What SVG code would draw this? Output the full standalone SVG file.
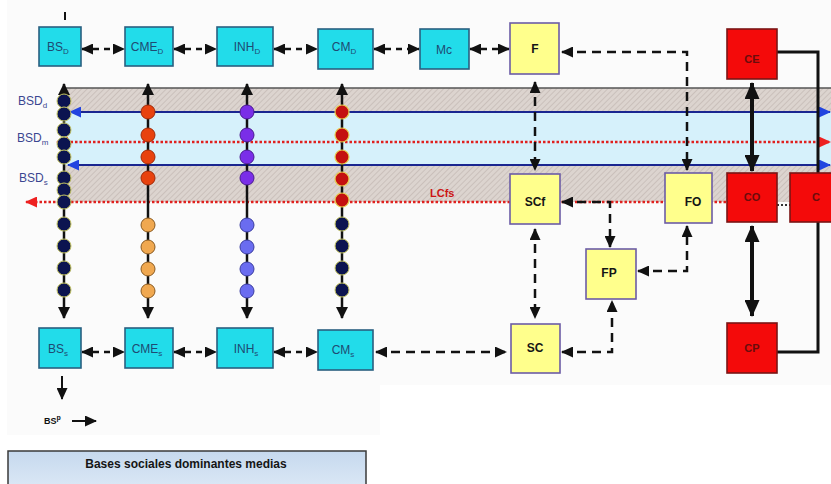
<svg xmlns="http://www.w3.org/2000/svg" width="831" height="484" viewBox="0 0 831 484">
<defs>
<style>
.bx{fill:#22dcea;stroke:#2a5f80;stroke-width:1.6}
.by{fill:#ffff8c;stroke:#6c5ca6;stroke-width:1.6}
.br{fill:#f40a0a;stroke:#7a1414;stroke-width:1.6}
.tc{font-family:"Liberation Sans",Arial,sans-serif;font-size:12px;fill:#1f4a72;text-anchor:middle}
.ty{font-family:"Liberation Sans",Arial,sans-serif;font-size:12px;font-weight:bold;fill:#151515;text-anchor:middle}
.tr{font-family:"Liberation Sans",Arial,sans-serif;font-size:11px;font-weight:bold;fill:#6a0c0c;text-anchor:middle}
.tl{font-family:"Liberation Sans",Arial,sans-serif;font-size:12px;fill:#3a4690}
.sb{font-size:8px}
.col{stroke:#111;stroke-width:2.5;marker-start:url(#ac);marker-end:url(#ac)}
.dbl{stroke:#111;stroke-width:2.5;stroke-dasharray:6 5;fill:none;marker-start:url(#a);marker-end:url(#a)}
.dsh{stroke:#111;stroke-width:2.5;stroke-dasharray:9 6;fill:none;marker-start:url(#a);marker-end:url(#a)}
.thk{stroke:#111;stroke-width:4;marker-start:url(#ab);marker-end:url(#ab)}
.rd{stroke:#e0201e;stroke-width:2.5;stroke-dasharray:2.5 2;fill:none}
.bl{stroke:#1a2690;stroke-width:2.2}
.dn{fill:#0c1450;stroke:#c8c860;stroke-width:1}
.dr{fill:#e8420e;stroke:#a02a08;stroke-width:1}
.do{fill:#f0a850;stroke:#8a5a20;stroke-width:1}
.dp{fill:#7a2ee8;stroke:#4a1a90;stroke-width:1}
.dv{fill:#6a6cf0;stroke:#3a3ca0;stroke-width:1}
.dm{fill:#c41010;stroke:#e8d050;stroke-width:1.2}
</style>
<marker id="a" viewBox="0 0 12 11" refX="11" refY="5.5" markerWidth="12" markerHeight="11" markerUnits="userSpaceOnUse" orient="auto-start-reverse"><path d="M0,0 L12,5.5 L0,11 z" fill="#111"/></marker>
<marker id="ac" viewBox="0 0 12 12" refX="11" refY="6" markerWidth="12" markerHeight="12" markerUnits="userSpaceOnUse" orient="auto-start-reverse"><path d="M0,0 L12,6 L0,12 z" fill="#111"/></marker>
<marker id="ab" viewBox="0 0 17 15" refX="16" refY="7.5" markerWidth="17" markerHeight="15" markerUnits="userSpaceOnUse" orient="auto-start-reverse"><path d="M0,0 L17,7.5 L0,15 z" fill="#111"/></marker>
<marker id="abl" viewBox="0 0 12 11" refX="11" refY="5.5" markerWidth="12" markerHeight="11" markerUnits="userSpaceOnUse" orient="auto-start-reverse"><path d="M0,0 L12,5.5 L0,11 z" fill="#2244e0"/></marker>
<marker id="ard" viewBox="0 0 12 11" refX="11" refY="5.5" markerWidth="12" markerHeight="11" markerUnits="userSpaceOnUse" orient="auto-start-reverse"><path d="M0,0 L12,5.5 L0,11 z" fill="#ee2020"/></marker>
<pattern id="hatch" width="4" height="4" patternUnits="userSpaceOnUse" patternTransform="rotate(45)"><rect width="4" height="4" fill="#dcd4cf"/><line x1="0" y1="0" x2="0" y2="4" stroke="#c4bab4" stroke-width="1.5"/></pattern>
<linearGradient id="leg" x1="0" y1="0" x2="0" y2="1"><stop offset="0" stop-color="#c6d9ee"/><stop offset="1" stop-color="#dde9f6"/></linearGradient>
</defs>
<rect width="831" height="484" fill="#fff"/>
<rect x="7" y="0" width="824" height="385" fill="#fbfbfb"/>
<rect x="7" y="385" width="373" height="50" fill="#fbfbfb"/>

<g id="bands">
<rect x="63" y="88" width="768" height="24" fill="url(#hatch)"/>
<rect x="63" y="112" width="768" height="53" fill="#d6f1fb"/>
<rect x="63" y="165" width="768" height="37" fill="url(#hatch)"/>
<line x1="63" y1="88" x2="831" y2="88" stroke="#555" stroke-width="1.5"/>
<line class="bl" x1="70" y1="112" x2="830" y2="112" marker-start="url(#abl)" marker-end="url(#abl)"/>
<line class="bl" x1="68" y1="165" x2="830" y2="165" marker-start="url(#abl)" marker-end="url(#abl)"/>
<line class="rd" x1="57" y1="142" x2="830" y2="142" marker-start="url(#ard)" marker-end="url(#ard)"/>
<line class="rd" x1="26" y1="202" x2="727" y2="202" marker-start="url(#ard)"/>
<text x="430" y="197" font-family="Liberation Sans,Arial,sans-serif" font-size="11" font-weight="bold" fill="#cc1414">LCfs</text>
<text class="tl" x="18" y="105">BSD<tspan class="sb" dy="3">d</tspan></text>
<text class="tl" x="17" y="142">BSD<tspan class="sb" dy="3">m</tspan></text>
<text class="tl" x="19" y="182">BSD<tspan class="sb" dy="3">s</tspan></text>
</g>

<g id="connectors">
<line x1="65" y1="12" x2="65" y2="20" stroke="#111" stroke-width="2"/>
<line class="dbl" x1="82" y1="49" x2="124" y2="49"/>
<line class="dbl" x1="174" y1="49" x2="216" y2="49"/>
<line class="dbl" x1="274" y1="49" x2="317" y2="49"/>
<line class="dbl" x1="374" y1="49" x2="419" y2="49"/>
<line class="dbl" x1="470" y1="49" x2="509" y2="49"/>
<line class="dbl" x1="82" y1="352" x2="124" y2="352"/>
<line class="dbl" x1="174" y1="352" x2="216" y2="352"/>
<line class="dbl" x1="274" y1="352" x2="317" y2="352"/>
<line class="dsh" x1="376" y1="352" x2="506" y2="352"/>
<line class="dsh" x1="535" y1="82" x2="535" y2="170"/>
<line class="dsh" x1="535" y1="229" x2="535" y2="318"/>
<path class="dsh" d="M562,52 L687,52 L687,170"/>
<path class="dsh" d="M562,202 L610,202 L610,247"/>
<path class="dsh" d="M638,271 L687,271 L687,226"/>
<path class="dsh" d="M562,352 L612,352 L612,301"/>
<path d="M777,52 L818,52 L818,352 L777,352" fill="none" stroke="#111" stroke-width="3"/>
<line class="thk" x1="752" y1="83" x2="752" y2="171"/>
<line class="thk" x1="752" y1="226" x2="752" y2="316"/>
<line x1="777" y1="205" x2="790" y2="205" stroke="#333" stroke-width="2" stroke-dasharray="2 2"/>
<line x1="62" y1="376" x2="62" y2="399" stroke="#111" stroke-width="2" marker-end="url(#a)"/>
<line x1="72" y1="421" x2="96" y2="421" stroke="#111" stroke-width="2" marker-end="url(#a)"/>
<text x="44" y="424" font-family="Liberation Sans,Arial,sans-serif" font-size="9" font-weight="bold" fill="#111">BS<tspan font-size="7" dy="-4">p</tspan></text>
</g>

<g id="columns">
<line class="col" x1="64" y1="84" x2="64" y2="318"/>
<circle class="dn" cx="64" cy="101" r="7"/><circle class="dn" cx="64" cy="114" r="7"/><circle class="dn" cx="64" cy="130" r="7"/><circle class="dn" cx="64" cy="144" r="7"/><circle class="dn" cx="64" cy="157" r="7"/><circle class="dn" cx="64" cy="178" r="7"/><circle class="dn" cx="64" cy="190" r="7"/><circle class="dn" cx="64" cy="202" r="7"/><circle class="dn" cx="64" cy="224" r="7"/><circle class="dn" cx="64" cy="246" r="7"/><circle class="dn" cx="64" cy="268" r="7"/><circle class="dn" cx="64" cy="290" r="7"/>
<line class="col" x1="148" y1="84" x2="148" y2="318"/>
<circle class="dr" cx="148" cy="112" r="7"/><circle class="dr" cx="148" cy="135" r="7"/><circle class="dr" cx="148" cy="157" r="7"/><circle class="dr" cx="148" cy="178" r="7"/>
<circle class="do" cx="148" cy="225" r="7"/><circle class="do" cx="148" cy="247" r="7"/><circle class="do" cx="148" cy="269" r="7"/><circle class="do" cx="148" cy="291" r="7"/>
<line class="col" x1="247" y1="84" x2="247" y2="318"/>
<circle class="dp" cx="247" cy="112" r="7"/><circle class="dp" cx="247" cy="135" r="7"/><circle class="dp" cx="247" cy="157" r="7"/><circle class="dp" cx="247" cy="178" r="7"/>
<circle class="dv" cx="247" cy="225" r="7"/><circle class="dv" cx="247" cy="247" r="7"/><circle class="dv" cx="247" cy="269" r="7"/><circle class="dv" cx="247" cy="291" r="7"/>
<line class="col" x1="342" y1="84" x2="342" y2="318"/>
<circle class="dm" cx="342" cy="112" r="7"/><circle class="dm" cx="342" cy="135" r="7"/><circle class="dm" cx="342" cy="157" r="7"/><circle class="dm" cx="342" cy="179" r="7"/><circle class="dm" cx="342" cy="200" r="7"/>
<circle class="dn" cx="342" cy="224" r="7"/><circle class="dn" cx="342" cy="246" r="7"/><circle class="dn" cx="342" cy="268" r="7"/><circle class="dn" cx="342" cy="290" r="7"/>
</g>

<g id="BSD"><rect class="bx" x="39" y="27" width="42" height="39"/><text class="tc" x="58" y="51">BS<tspan class="sb" dy="3">D</tspan></text></g>
<g id="CMED"><rect class="bx" x="125" y="27" width="48" height="39"/><text class="tc" x="147" y="51">CME<tspan class="sb" dy="3">D</tspan></text></g>
<g id="INHD"><rect class="bx" x="217" y="27" width="56" height="39"/><text class="tc" x="247" y="51">INH<tspan class="sb" dy="3">D</tspan></text></g>
<g id="CMD"><rect class="bx" x="318" y="29" width="55" height="40"/><text class="tc" x="344" y="51">CM<tspan class="sb" dy="3">D</tspan></text></g>
<g id="Mc"><rect class="bx" x="420" y="29" width="49" height="40"/><text class="tc" x="444" y="54">Mc</text></g>
<g id="F"><rect class="by" x="510" y="23" width="49" height="51"/><text class="ty" x="535" y="53">F</text></g>
<g id="CE"><rect class="br" x="727" y="29" width="50" height="50"/><text class="tr" x="752" y="63">CE</text></g>
<g id="SCf"><rect class="by" x="510" y="174" width="50" height="50"/><text class="ty" x="535" y="206">SCf</text></g>
<g id="FO"><rect class="by" x="665" y="173" width="47" height="50"/><text class="ty" x="693" y="206">FO</text></g>
<g id="CO"><rect class="br" x="727" y="173" width="50" height="49"/><text class="tr" x="752" y="201">CO</text></g>
<g id="C"><rect class="br" x="790" y="173" width="50" height="49"/><text class="tr" x="816" y="201">C</text></g>
<g id="FP"><rect class="by" x="586" y="249" width="50" height="50"/><text class="ty" x="609" y="277">FP</text></g>
<g id="SC"><rect class="by" x="511" y="324" width="49" height="49"/><text class="ty" x="535" y="352">SC</text></g>
<g id="CP"><rect class="br" x="727" y="323" width="50" height="50"/><text class="tr" x="752" y="352">CP</text></g>
<g id="BSs"><rect class="bx" x="39" y="328" width="42" height="40"/><text class="tc" x="58" y="353">BS<tspan class="sb" dy="3">s</tspan></text></g>
<g id="CMEs"><rect class="bx" x="125" y="328" width="48" height="40"/><text class="tc" x="147" y="353">CME<tspan class="sb" dy="3">s</tspan></text></g>
<g id="INHs"><rect class="bx" x="217" y="328" width="56" height="40"/><text class="tc" x="246" y="353">INH<tspan class="sb" dy="3">s</tspan></text></g>
<g id="CMs"><rect class="bx" x="318" y="330" width="55" height="40"/><text class="tc" x="343" y="354">CM<tspan class="sb" dy="3">s</tspan></text></g>

<g id="legend">
<rect x="8" y="451" width="358" height="40" fill="url(#leg)" stroke="#3a3a3a" stroke-width="1.5"/>
<text x="186" y="468" font-family="Liberation Sans,Arial,sans-serif" font-size="12" font-weight="bold" fill="#151515" text-anchor="middle">Bases sociales dominantes medias</text>
</g>
</svg>
